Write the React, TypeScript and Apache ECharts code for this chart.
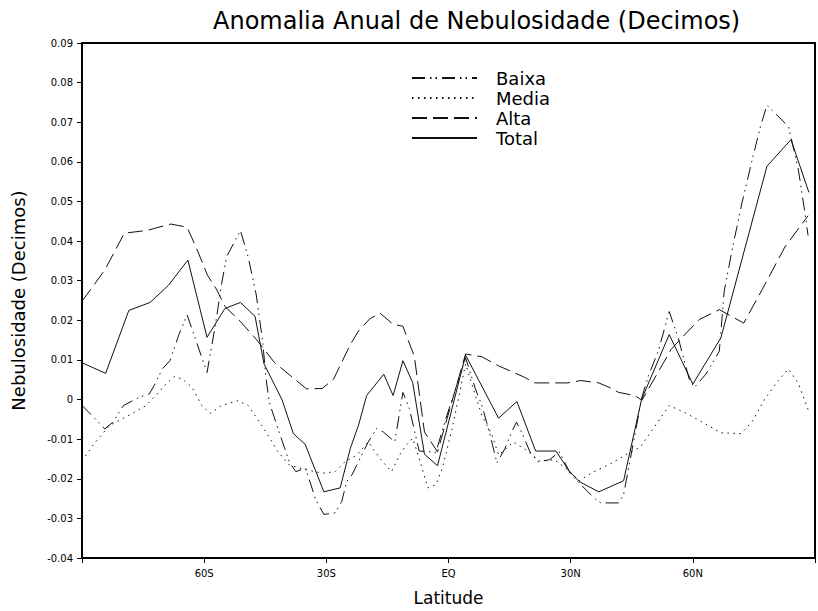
import React, { useEffect, useRef } from "react";
import * as echarts from "echarts";

const FONT = "'DejaVu Sans', 'Liberation Sans', sans-serif";

const seriesNames = ["Baixa", "Media", "Alta", "Total"];

const baixaLat = [-90, -87.2, -84.4, -82.4, -79.8, -75.9, -73.5, -72.3, -70.3, -68.4, -66.2, -64.2, -59.3, -57.3, -55.7, -54.5, -51.1, -49.2, -47.2, -45.6, -44.8, -44.0, -41.9, -39.1, -37.5, -35.1, -32.6, -30.6, -27.8, -26.2, -25.0, -23.7, -21.3, -19.7, -17.7, -16.0, -13.2, -11.2, -9.6, -7.2, -3.1, -0.7, 4.2, 6.6, 8.2, 9.8, 11.9, 13.9, 15.5, 16.7, 18.3, 20.0, 22.0, 24.8, 27.2, 30.1, 35.7, 37.4, 41.8, 43.0, 47.5, 49.1, 51.6, 54.2, 56.4, 59.2, 60.4, 63.2, 66.5, 67.7, 69.7, 72.1, 74.6, 76.6, 78.2, 83.5, 85.9, 87.5, 88.3];
const baixaVal = [-0.0015, -0.0044, -0.0074, -0.0057, -0.0015, 0.0006, 0.0014, 0.0035, 0.0077, 0.0098, 0.0164, 0.0214, 0.0068, 0.0185, 0.0293, 0.036, 0.0427, 0.036, 0.0264, 0.0143, 0.0052, -0.0007, -0.0073, -0.0157, -0.0182, -0.0173, -0.0253, -0.029, -0.0286, -0.0257, -0.0207, -0.019, -0.014, -0.0107, -0.0073, -0.0082, -0.0107, 0.0018, -0.0023, -0.013, -0.0133, -0.005, 0.0105, 0.0027, -0.0015, -0.0073, -0.016, -0.0123, -0.0082, -0.0057, -0.009, -0.0132, -0.0157, -0.0152, -0.0132, -0.019, -0.0248, -0.0261, -0.0261, -0.024, 0.0006, 0.006, 0.0125, 0.0222, 0.0156, 0.0048, 0.0031, 0.0064, 0.0122, 0.0273, 0.0381, 0.0498, 0.0606, 0.0689, 0.0743, 0.0689, 0.0581, 0.0473, 0.0414];

const mediaLat = [-90, -87.3, -85.6, -83.2, -80.0, -77.1, -74.3, -71.9, -69.4, -67.4, -65.4, -63.0, -60.6, -58.5, -55.7, -51.7, -49.2, -47.2, -44.8, -41.9, -39.1, -35.9, -31.0, -27.8, -25.4, -22.5, -19.7, -16.9, -14.0, -12.0, -10.4, -8.8, -7.2, -5.1, -3.1, -1.5, 0.9, 4.2, 6.6, 8.2, 10.7, 12.3, 14.3, 15.9, 18.7, 22.4, 26.0, 29.6, 32.1, 35.0, 40.2, 43.4, 47.1, 50.3, 54.2, 58.2, 61.6, 66.9, 71.9, 74.6, 77.8, 81.0, 83.5, 85.9, 88.3];
const mediaVal = [-0.0155, -0.0115, -0.0094, -0.0065, -0.0048, -0.0032, -0.0015, 0.001, 0.0039, 0.0058, 0.0052, 0.0031, -0.0015, -0.0035, -0.0015, -0.0003, -0.0015, -0.0045, -0.0082, -0.0132, -0.0165, -0.0175, -0.0186, -0.0182, -0.0157, -0.014, -0.0107, -0.0148, -0.0182, -0.014, -0.0115, -0.0098, -0.0148, -0.0223, -0.0215, -0.0173, -0.0073, 0.009, 0.001, -0.004, -0.009, -0.014, -0.0123, -0.0107, -0.0125, -0.0155, -0.0152, -0.018, -0.0205, -0.0186, -0.016, -0.014, -0.012, -0.0073, -0.0015, -0.0034, -0.0053, -0.0084, -0.0086, -0.0055, 0.0004, 0.0048, 0.0077, 0.0041, -0.0025];

const altaLat = [-90, -84.4, -79.6, -73.9, -71.9, -68.2, -64.2, -61.8, -59.2, -56.9, -54.9, -51.2, -47.2, -42.7, -38.9, -34.9, -31.0, -28.2, -24.1, -22.1, -19.3, -16.8, -13.6, -11.2, -10.0, -8.4, -5.9, -2.7, 4.2, 8.2, 12.3, 16.3, 18.7, 21.2, 29.2, 32.5, 36.9, 39.4, 41.8, 45.8, 47.5, 54.7, 58.4, 61.6, 66.5, 72.5, 77.0, 82.6, 88.3];
const altaVal = [0.0248, 0.0327, 0.042, 0.0427, 0.0433, 0.0443, 0.0435, 0.038, 0.0314, 0.0277, 0.0235, 0.0198, 0.0152, 0.0093, 0.0061, 0.0027, 0.0028, 0.0052, 0.0139, 0.0173, 0.0204, 0.0218, 0.019, 0.0185, 0.0152, 0.011, -0.0082, -0.0132, 0.0115, 0.0108, 0.0085, 0.0067, 0.0056, 0.0042, 0.0042, 0.0048, 0.0042, 0.0031, 0.0018, 0.001, -0.0002, 0.0127, 0.0168, 0.0202, 0.0227, 0.0193, 0.0277, 0.0385, 0.0464];

const totalLat = [-90, -84.2, -78.5, -73.3, -68.8, -64.0, -59.3, -54.9, -51.1, -47.5, -45.3, -40.9, -38.1, -35.2, -30.6, -26.6, -24.1, -22.1, -20.1, -15.9, -13.6, -11.2, -8.8, -5.9, -2.7, 4.2, 12.3, 16.8, 21.4, 26.4, 29.6, 32.1, 36.9, 43.0, 47.4, 54.2, 60.0, 66.9, 78.2, 84.1, 88.5];
const totalVal = [0.0093, 0.0066, 0.0225, 0.0245, 0.0288, 0.0352, 0.0157, 0.023, 0.0245, 0.021, 0.009, 0.0, -0.0086, -0.0113, -0.0233, -0.0223, -0.0123, -0.0065, 0.001, 0.0064, 0.001, 0.0098, 0.0043, -0.0138, -0.0167, 0.0112, -0.0047, -0.0005, -0.013, -0.013, -0.018, -0.0207, -0.0233, -0.0205, 0.0, 0.0164, 0.0039, 0.0156, 0.0589, 0.0656, 0.0523];

const dashPatterns: (number[] | "solid")[] = [
  [13, 5, 1.5, 4, 1.5, 5],
  [1.5, 4.5],
  [15, 6],
  "solid",
];

function zip(lat: number[], val: number[]) {
  const n = Math.min(lat.length, val.length);
  const out: [number, number][] = [];
  for (let i = 0; i < n; i++) out.push([lat[i], val[i]]);
  return out;
}

function latLabel(v: number) {
  if (Math.abs(v) >= 90) return "";
  if (v === 0) return "EQ";
  return Math.abs(v) + (v < 0 ? "S" : "N");
}

function valLabel(v: number) {
  const r = Math.round(v * 100) / 100;
  if (r === 0) return "0";
  return r.toFixed(2);
}

export default function App() {
  const ref = useRef<HTMLDivElement>(null);
  useEffect(() => {
    document.body.style.margin = "0";
    if (!ref.current) return;
    const chart = echarts.init(ref.current, undefined, { renderer: "svg" });
    const data = [
      zip(baixaLat, baixaVal),
      zip(mediaLat, mediaVal),
      zip(altaLat, altaVal),
      zip(totalLat, totalVal),
    ];
    chart.setOption({
      animation: false,
      backgroundColor: "#ffffff",
      title: {
        text: "Anomalia Anual de Nebulosidade (Decimos)",
        left: 213,
        top: 9,
        padding: 0,
        textStyle: { fontSize: 24, fontWeight: "normal", fontFamily: FONT, color: "#000" },
      },
      legend: {
        orient: "vertical",
        left: 411,
        top: 69,
        padding: 0,
        itemWidth: 65,
        itemHeight: 14,
        itemGap: 2,
        data: seriesNames,
        itemStyle: { opacity: 0, borderWidth: 0 },
        textStyle: { fontSize: 18, fontFamily: FONT, color: "#000", padding: [0, 0, 0, 14] },
      },
      grid: {
        left: 82,
        top: 43,
        width: 741.6,
        height: 520,
        show: true,
        borderColor: "#000",
        borderWidth: 2,
        backgroundColor: "transparent",
      },
      xAxis: {
        type: "value",
        min: -90,
        max: 90,
        interval: 30,
        name: "Latitude",
        nameLocation: "middle",
        nameGap: 31,
        nameTextStyle: { fontSize: 17, fontFamily: FONT, color: "#000" },
        axisLine: { show: true, onZero: false, lineStyle: { color: "#000", width: 2 } },
        axisTick: { show: true, length: 5, lineStyle: { color: "#000", width: 1 } },
        axisLabel: { margin: 10, fontSize: 10, fontFamily: FONT, color: "#000", formatter: latLabel },
        splitLine: { show: false },
      },
      yAxis: {
        type: "value",
        min: -0.04,
        max: 0.09,
        interval: 0.01,
        name: "Nebulosidade (Decimos)",
        nameLocation: "middle",
        nameGap: 55,
        nameTextStyle: { fontSize: 18, fontFamily: FONT, color: "#000" },
        axisLine: { show: true, onZero: false, lineStyle: { color: "#000", width: 2 } },
        axisTick: { show: true, length: 5, lineStyle: { color: "#000", width: 1 } },
        axisLabel: { margin: 9, fontSize: 10, fontFamily: FONT, color: "#000", formatter: valLabel },
        splitLine: { show: false },
      },
      series: seriesNames.map((name, i) => ({
        name,
        type: "line",
        data: data[i],
        symbol: "none",
        showSymbol: false,
        lineStyle: { color: "#111", width: 1, type: dashPatterns[i] },
        itemStyle: { color: "#111" },
      })),
    });
    return () => chart.dispose();
  }, []);
  return <div ref={ref} style={{ width: 818, height: 611 }} />;
}
